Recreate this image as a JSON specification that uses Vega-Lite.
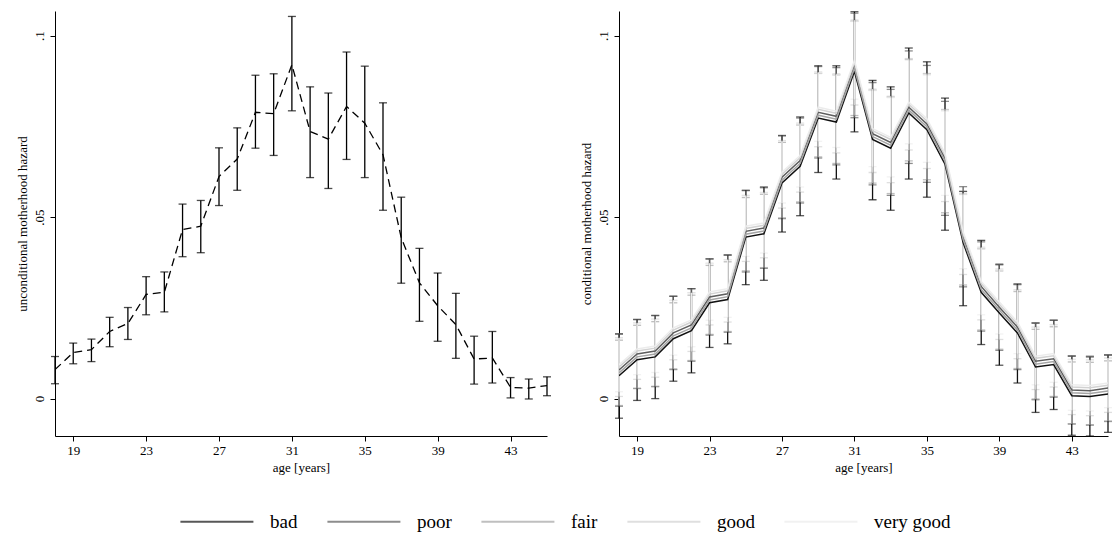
{
  "$schema": "https://vega.github.io/schema/vega-lite/v6.json",
  "background": "white",
  "padding": {"left": 16, "top": 11, "right": 5, "bottom": 5},
  "spacing": 29,
  "config": {
    "view": {"stroke": null},
    "font": "Liberation Serif",
    "axis": {"grid": false, "domainColor": "#000", "tickColor": "#000", "labelColor": "#000", "titleColor": "#000", "labelFont": "Liberation Serif", "titleFont": "Liberation Serif", "labelFontSize": 13, "titleFontSize": 13, "titleFontWeight": "normal", "tickSize": 5, "domainWidth": 1, "tickWidth": 1},
    "legend": {"labelFont": "Liberation Serif", "labelFontSize": 19, "labelColor": "#000", "layout": {"bottom": {"anchor": "middle"}}}
  },
  "datasets": {
    "left": [
      {"age": 18, "y": 0.008, "lo": 0.0041, "hi": 0.0116},
      {"age": 19, "y": 0.0127, "lo": 0.0096, "hi": 0.0153},
      {"age": 20, "y": 0.0135, "lo": 0.0102, "hi": 0.0164},
      {"age": 21, "y": 0.0185, "lo": 0.0143, "hi": 0.0224},
      {"age": 22, "y": 0.0207, "lo": 0.0163, "hi": 0.0251},
      {"age": 23, "y": 0.0287, "lo": 0.0231, "hi": 0.0336},
      {"age": 24, "y": 0.0293, "lo": 0.0239, "hi": 0.0349},
      {"age": 25, "y": 0.0466, "lo": 0.0391, "hi": 0.0536},
      {"age": 26, "y": 0.0475, "lo": 0.0402, "hi": 0.0546},
      {"age": 27, "y": 0.0612, "lo": 0.0532, "hi": 0.0691},
      {"age": 28, "y": 0.066, "lo": 0.0574, "hi": 0.0746},
      {"age": 29, "y": 0.0789, "lo": 0.069, "hi": 0.0891},
      {"age": 30, "y": 0.0785, "lo": 0.067, "hi": 0.0895},
      {"age": 31, "y": 0.092, "lo": 0.0793, "hi": 0.1053},
      {"age": 32, "y": 0.0736, "lo": 0.0609, "hi": 0.0859},
      {"age": 33, "y": 0.0715, "lo": 0.0579, "hi": 0.0842},
      {"age": 34, "y": 0.0805, "lo": 0.0659, "hi": 0.0955},
      {"age": 35, "y": 0.0759, "lo": 0.0609, "hi": 0.0916},
      {"age": 36, "y": 0.0672, "lo": 0.0519, "hi": 0.0815},
      {"age": 37, "y": 0.0443, "lo": 0.0318, "hi": 0.0555},
      {"age": 38, "y": 0.0319, "lo": 0.0213, "hi": 0.0414},
      {"age": 39, "y": 0.0256, "lo": 0.0158, "hi": 0.0346},
      {"age": 40, "y": 0.0204, "lo": 0.0111, "hi": 0.029},
      {"age": 41, "y": 0.0109, "lo": 0.004, "hi": 0.0172},
      {"age": 42, "y": 0.0112, "lo": 0.0043, "hi": 0.0185},
      {"age": 43, "y": 0.0031, "lo": 0.0002, "hi": 0.0058},
      {"age": 44, "y": 0.0029, "lo": -0.0001, "hi": 0.0054},
      {"age": 45, "y": 0.0036, "lo": 0.0008, "hi": 0.006}
    ],
    "right": [
      {"age": 18, "h": "bad", "y": 0.0063, "lo": -0.0054, "hi": 0.0178},
      {"age": 18, "h": "poor", "y": 0.0079, "lo": -0.0021, "hi": 0.0179},
      {"age": 18, "h": "fair", "y": 0.0071, "lo": -0.0019, "hi": 0.0161},
      {"age": 18, "h": "good", "y": 0.0087, "lo": 0.0006, "hi": 0.0168},
      {"age": 18, "h": "very good", "y": 0.0093, "lo": 0.0019, "hi": 0.0167},
      {"age": 19, "h": "bad", "y": 0.0107, "lo": -0.0005, "hi": 0.0218},
      {"age": 19, "h": "poor", "y": 0.0123, "lo": 0.0028, "hi": 0.0218},
      {"age": 19, "h": "fair", "y": 0.0115, "lo": 0.0028, "hi": 0.0202},
      {"age": 19, "h": "good", "y": 0.0131, "lo": 0.0053, "hi": 0.0209},
      {"age": 19, "h": "very good", "y": 0.0137, "lo": 0.0066, "hi": 0.0208},
      {"age": 20, "h": "bad", "y": 0.0115, "lo": 0.0, "hi": 0.0229},
      {"age": 20, "h": "poor", "y": 0.0131, "lo": 0.0033, "hi": 0.0229},
      {"age": 20, "h": "fair", "y": 0.0123, "lo": 0.0034, "hi": 0.0212},
      {"age": 20, "h": "good", "y": 0.0139, "lo": 0.0059, "hi": 0.0219},
      {"age": 20, "h": "very good", "y": 0.0145, "lo": 0.0072, "hi": 0.0218},
      {"age": 21, "h": "bad", "y": 0.0165, "lo": 0.0048, "hi": 0.0282},
      {"age": 21, "h": "poor", "y": 0.0181, "lo": 0.008, "hi": 0.0282},
      {"age": 21, "h": "fair", "y": 0.0173, "lo": 0.0082, "hi": 0.0264},
      {"age": 21, "h": "good", "y": 0.0189, "lo": 0.0107, "hi": 0.0271},
      {"age": 21, "h": "very good", "y": 0.0195, "lo": 0.012, "hi": 0.027},
      {"age": 22, "h": "bad", "y": 0.0187, "lo": 0.0071, "hi": 0.0303},
      {"age": 22, "h": "poor", "y": 0.0203, "lo": 0.0103, "hi": 0.0303},
      {"age": 22, "h": "fair", "y": 0.0195, "lo": 0.0105, "hi": 0.0285},
      {"age": 22, "h": "good", "y": 0.0211, "lo": 0.013, "hi": 0.0292},
      {"age": 22, "h": "very good", "y": 0.0217, "lo": 0.0143, "hi": 0.0291},
      {"age": 23, "h": "bad", "y": 0.0264, "lo": 0.0141, "hi": 0.0385},
      {"age": 23, "h": "poor", "y": 0.028, "lo": 0.0175, "hi": 0.0385},
      {"age": 23, "h": "fair", "y": 0.0272, "lo": 0.0177, "hi": 0.0367},
      {"age": 23, "h": "good", "y": 0.0288, "lo": 0.0203, "hi": 0.0373},
      {"age": 23, "h": "very good", "y": 0.0294, "lo": 0.0216, "hi": 0.0372},
      {"age": 24, "h": "bad", "y": 0.0273, "lo": 0.0151, "hi": 0.0396},
      {"age": 24, "h": "poor", "y": 0.0289, "lo": 0.0183, "hi": 0.0395},
      {"age": 24, "h": "fair", "y": 0.0281, "lo": 0.0185, "hi": 0.0377},
      {"age": 24, "h": "good", "y": 0.0297, "lo": 0.0211, "hi": 0.0383},
      {"age": 24, "h": "very good", "y": 0.0303, "lo": 0.0224, "hi": 0.0382},
      {"age": 25, "h": "bad", "y": 0.0445, "lo": 0.0314, "hi": 0.0574},
      {"age": 25, "h": "poor", "y": 0.0461, "lo": 0.0349, "hi": 0.0573},
      {"age": 25, "h": "fair", "y": 0.0453, "lo": 0.0352, "hi": 0.0554},
      {"age": 25, "h": "good", "y": 0.0469, "lo": 0.0378, "hi": 0.056},
      {"age": 25, "h": "very good", "y": 0.0475, "lo": 0.0392, "hi": 0.0558},
      {"age": 26, "h": "bad", "y": 0.0454, "lo": 0.0326, "hi": 0.0583},
      {"age": 26, "h": "poor", "y": 0.047, "lo": 0.0359, "hi": 0.0581},
      {"age": 26, "h": "fair", "y": 0.0462, "lo": 0.0361, "hi": 0.0563},
      {"age": 26, "h": "good", "y": 0.0478, "lo": 0.0388, "hi": 0.0568},
      {"age": 26, "h": "very good", "y": 0.0484, "lo": 0.0401, "hi": 0.0567},
      {"age": 27, "h": "bad", "y": 0.0594, "lo": 0.0459, "hi": 0.0725},
      {"age": 27, "h": "poor", "y": 0.061, "lo": 0.0496, "hi": 0.0724},
      {"age": 27, "h": "fair", "y": 0.0602, "lo": 0.0498, "hi": 0.0706},
      {"age": 27, "h": "good", "y": 0.0618, "lo": 0.0525, "hi": 0.0711},
      {"age": 27, "h": "very good", "y": 0.0624, "lo": 0.0539, "hi": 0.0709},
      {"age": 28, "h": "bad", "y": 0.064, "lo": 0.0504, "hi": 0.0776},
      {"age": 28, "h": "poor", "y": 0.0656, "lo": 0.0539, "hi": 0.0773},
      {"age": 28, "h": "fair", "y": 0.0648, "lo": 0.0542, "hi": 0.0754},
      {"age": 28, "h": "good", "y": 0.0664, "lo": 0.0569, "hi": 0.0759},
      {"age": 28, "h": "very good", "y": 0.067, "lo": 0.0583, "hi": 0.0757},
      {"age": 29, "h": "bad", "y": 0.0773, "lo": 0.0623, "hi": 0.0917},
      {"age": 29, "h": "poor", "y": 0.0789, "lo": 0.0663, "hi": 0.0915},
      {"age": 29, "h": "fair", "y": 0.0781, "lo": 0.0666, "hi": 0.0896},
      {"age": 29, "h": "good", "y": 0.0797, "lo": 0.0694, "hi": 0.09},
      {"age": 29, "h": "very good", "y": 0.0803, "lo": 0.0709, "hi": 0.0897},
      {"age": 30, "h": "bad", "y": 0.0762, "lo": 0.0605, "hi": 0.0917},
      {"age": 30, "h": "poor", "y": 0.0778, "lo": 0.0644, "hi": 0.0912},
      {"age": 30, "h": "fair", "y": 0.077, "lo": 0.0648, "hi": 0.0892},
      {"age": 30, "h": "good", "y": 0.0786, "lo": 0.0677, "hi": 0.0895},
      {"age": 30, "h": "very good", "y": 0.0792, "lo": 0.0692, "hi": 0.0892},
      {"age": 31, "h": "bad", "y": 0.0902, "lo": 0.0735, "hi": 0.1066},
      {"age": 31, "h": "poor", "y": 0.0918, "lo": 0.0774, "hi": 0.1062},
      {"age": 31, "h": "fair", "y": 0.091, "lo": 0.078, "hi": 0.104},
      {"age": 31, "h": "good", "y": 0.0926, "lo": 0.0809, "hi": 0.1043},
      {"age": 31, "h": "very good", "y": 0.0932, "lo": 0.0825, "hi": 0.1039},
      {"age": 32, "h": "bad", "y": 0.0714, "lo": 0.0548, "hi": 0.0877},
      {"age": 32, "h": "poor", "y": 0.073, "lo": 0.0589, "hi": 0.0871},
      {"age": 32, "h": "fair", "y": 0.0722, "lo": 0.0594, "hi": 0.085},
      {"age": 32, "h": "good", "y": 0.0738, "lo": 0.0623, "hi": 0.0853},
      {"age": 32, "h": "very good", "y": 0.0744, "lo": 0.0639, "hi": 0.0849},
      {"age": 33, "h": "bad", "y": 0.069, "lo": 0.0519, "hi": 0.0859},
      {"age": 33, "h": "poor", "y": 0.0706, "lo": 0.056, "hi": 0.0852},
      {"age": 33, "h": "fair", "y": 0.0698, "lo": 0.0565, "hi": 0.0831},
      {"age": 33, "h": "good", "y": 0.0714, "lo": 0.0595, "hi": 0.0833},
      {"age": 33, "h": "very good", "y": 0.072, "lo": 0.0611, "hi": 0.0829},
      {"age": 34, "h": "bad", "y": 0.0787, "lo": 0.0605, "hi": 0.0966},
      {"age": 34, "h": "poor", "y": 0.0803, "lo": 0.0648, "hi": 0.0958},
      {"age": 34, "h": "fair", "y": 0.0795, "lo": 0.0655, "hi": 0.0935},
      {"age": 34, "h": "good", "y": 0.0811, "lo": 0.0685, "hi": 0.0937},
      {"age": 34, "h": "very good", "y": 0.0817, "lo": 0.0702, "hi": 0.0932},
      {"age": 35, "h": "bad", "y": 0.0741, "lo": 0.0555, "hi": 0.0928},
      {"age": 35, "h": "poor", "y": 0.0757, "lo": 0.0596, "hi": 0.0918},
      {"age": 35, "h": "fair", "y": 0.0749, "lo": 0.0603, "hi": 0.0895},
      {"age": 35, "h": "good", "y": 0.0765, "lo": 0.0634, "hi": 0.0896},
      {"age": 35, "h": "very good", "y": 0.0771, "lo": 0.0651, "hi": 0.0891},
      {"age": 36, "h": "bad", "y": 0.0646, "lo": 0.0464, "hi": 0.0828},
      {"age": 36, "h": "poor", "y": 0.0662, "lo": 0.0505, "hi": 0.0819},
      {"age": 36, "h": "fair", "y": 0.0654, "lo": 0.0512, "hi": 0.0796},
      {"age": 36, "h": "good", "y": 0.067, "lo": 0.0543, "hi": 0.0797},
      {"age": 36, "h": "very good", "y": 0.0676, "lo": 0.056, "hi": 0.0792},
      {"age": 37, "h": "bad", "y": 0.043, "lo": 0.0256, "hi": 0.0571},
      {"age": 37, "h": "poor", "y": 0.0446, "lo": 0.0308, "hi": 0.0584},
      {"age": 37, "h": "fair", "y": 0.0438, "lo": 0.0313, "hi": 0.0563},
      {"age": 37, "h": "good", "y": 0.0454, "lo": 0.0342, "hi": 0.0566},
      {"age": 37, "h": "very good", "y": 0.046, "lo": 0.0358, "hi": 0.0562},
      {"age": 38, "h": "bad", "y": 0.0293, "lo": 0.0149, "hi": 0.0436},
      {"age": 38, "h": "poor", "y": 0.0309, "lo": 0.0186, "hi": 0.0432},
      {"age": 38, "h": "fair", "y": 0.0301, "lo": 0.0189, "hi": 0.0413},
      {"age": 38, "h": "good", "y": 0.0317, "lo": 0.0217, "hi": 0.0417},
      {"age": 38, "h": "very good", "y": 0.0323, "lo": 0.0231, "hi": 0.0415},
      {"age": 39, "h": "bad", "y": 0.0236, "lo": 0.0092, "hi": 0.0369},
      {"age": 39, "h": "poor", "y": 0.0252, "lo": 0.0133, "hi": 0.0371},
      {"age": 39, "h": "fair", "y": 0.0244, "lo": 0.0136, "hi": 0.0352},
      {"age": 39, "h": "good", "y": 0.026, "lo": 0.0163, "hi": 0.0357},
      {"age": 39, "h": "very good", "y": 0.0266, "lo": 0.0178, "hi": 0.0354},
      {"age": 40, "h": "bad", "y": 0.0181, "lo": 0.0043, "hi": 0.0316},
      {"age": 40, "h": "poor", "y": 0.0197, "lo": 0.008, "hi": 0.0314},
      {"age": 40, "h": "fair", "y": 0.0189, "lo": 0.0083, "hi": 0.0295},
      {"age": 40, "h": "good", "y": 0.0205, "lo": 0.011, "hi": 0.03},
      {"age": 40, "h": "very good", "y": 0.0211, "lo": 0.0124, "hi": 0.0298},
      {"age": 41, "h": "bad", "y": 0.0087, "lo": -0.0038, "hi": 0.0208},
      {"age": 41, "h": "poor", "y": 0.0103, "lo": -0.0003, "hi": 0.0209},
      {"age": 41, "h": "fair", "y": 0.0095, "lo": -0.0001, "hi": 0.0191},
      {"age": 41, "h": "good", "y": 0.0111, "lo": 0.0025, "hi": 0.0197},
      {"age": 41, "h": "very good", "y": 0.0117, "lo": 0.0038, "hi": 0.0196},
      {"age": 42, "h": "bad", "y": 0.0094, "lo": -0.003, "hi": 0.0216},
      {"age": 42, "h": "poor", "y": 0.011, "lo": 0.0004, "hi": 0.0216},
      {"age": 42, "h": "fair", "y": 0.0102, "lo": 0.0006, "hi": 0.0198},
      {"age": 42, "h": "good", "y": 0.0118, "lo": 0.0032, "hi": 0.0204},
      {"age": 42, "h": "very good", "y": 0.0124, "lo": 0.0045, "hi": 0.0203},
      {"age": 43, "h": "bad", "y": 0.0008, "lo": -0.0101, "hi": 0.0117},
      {"age": 43, "h": "poor", "y": 0.0024, "lo": -0.007, "hi": 0.0118},
      {"age": 43, "h": "fair", "y": 0.0016, "lo": -0.0069, "hi": 0.0101},
      {"age": 43, "h": "good", "y": 0.0032, "lo": -0.0044, "hi": 0.0108},
      {"age": 43, "h": "very good", "y": 0.0038, "lo": -0.0032, "hi": 0.0108},
      {"age": 44, "h": "bad", "y": 0.0006, "lo": -0.0103, "hi": 0.0115},
      {"age": 44, "h": "poor", "y": 0.0022, "lo": -0.0073, "hi": 0.0117},
      {"age": 44, "h": "fair", "y": 0.0014, "lo": -0.0072, "hi": 0.01},
      {"age": 44, "h": "good", "y": 0.003, "lo": -0.0047, "hi": 0.0107},
      {"age": 44, "h": "very good", "y": 0.0036, "lo": -0.0034, "hi": 0.0106},
      {"age": 45, "h": "bad", "y": 0.0013, "lo": -0.0093, "hi": 0.012},
      {"age": 45, "h": "poor", "y": 0.0029, "lo": -0.0063, "hi": 0.0121},
      {"age": 45, "h": "fair", "y": 0.0021, "lo": -0.0062, "hi": 0.0104},
      {"age": 45, "h": "good", "y": 0.0037, "lo": -0.0038, "hi": 0.0112},
      {"age": 45, "h": "very good", "y": 0.0043, "lo": -0.0025, "hi": 0.0111}
    ]
  },
  "hconcat": [
    {
      "width": 492,
      "height": 425,
      "data": {"name": "left"},
      "layer": [
        {
          "mark": {"type": "errorbar", "ticks": {"size": 8, "thickness": 1.3, "color": "#000"}, "rule": {"strokeWidth": 1.3, "color": "#000"}},
          "encoding": {
            "x": {"field": "age", "type": "quantitative", "title": "age [years]"},
            "y": {"field": "lo", "type": "quantitative", "title": "unconditional motherhood hazard"},
            "y2": {"field": "hi"}
          }
        },
        {
          "mark": {"type": "line", "color": "#000", "strokeWidth": 1.3, "strokeDash": [8, 5], "clip": true},
          "encoding": {
            "x": {"field": "age", "type": "quantitative", "title": "age [years]", "scale": {"domain": [18, 45], "nice": false, "zero": false},
              "axis": {"values": [19, 23, 27, 31, 35, 39, 43], "labelPadding": 3, "titlePadding": 4}},
            "y": {"field": "y", "type": "quantitative", "title": "unconditional motherhood hazard", "scale": {"domain": [-0.0103, 0.1068], "nice": false, "zero": false},
              "axis": {"values": [0, 0.05, 0.1], "labelAngle": -90, "labelPadding": 4, "titlePadding": 4,
                "labelExpr": "datum.value == 0 ? '0' : replace(format(datum.value, '~g'), '0.', '.')"}}
          }
        }
      ]
    },
    {
      "width": 489,
      "height": 425,
      "data": {"name": "right"},
      "layer": [
        {
          "mark": {"type": "errorbar", "ticks": {"size": 8, "thickness": 1.3}, "rule": {"strokeWidth": 1.3}},
          "encoding": {
            "x": {"field": "age", "type": "quantitative", "title": "age [years]"},
            "y": {"field": "lo", "type": "quantitative", "title": "conditional motherhood hazard"},
            "y2": {"field": "hi"},
            "color": {"field": "h", "type": "nominal"}
          }
        },
        {
          "mark": {"type": "line", "strokeWidth": 1.5, "clip": true},
          "encoding": {
            "x": {"field": "age", "type": "quantitative", "title": "age [years]", "scale": {"domain": [18, 45], "nice": false, "zero": false},
              "axis": {"values": [19, 23, 27, 31, 35, 39, 43], "labelPadding": 3, "titlePadding": 4}},
            "y": {"field": "y", "type": "quantitative", "title": "conditional motherhood hazard", "scale": {"domain": [-0.0103, 0.1068], "nice": false, "zero": false},
              "axis": {"values": [0, 0.05, 0.1], "labelAngle": -90, "labelPadding": 4, "titlePadding": 4,
                "labelExpr": "datum.value == 0 ? '0' : replace(format(datum.value, '~g'), '0.', '.')"}},
            "color": {"field": "h", "type": "nominal",
              "scale": {"domain": ["bad", "poor", "fair", "good", "very good"], "range": ["#111111", "#5e5e5e", "#a4a4a4", "#d2d2d2", "#ececec"]},
              "legend": {"title": null, "orient": "bottom", "direction": "horizontal", "symbolType": "M-1,0H11", "symbolSize": 148, "symbolStrokeWidth": 2, "symbolOpacity": 1, "labelOffset": 74, "columnPadding": 25, "offset": 38}}
          }
        }
      ]
    }
  ]
}
